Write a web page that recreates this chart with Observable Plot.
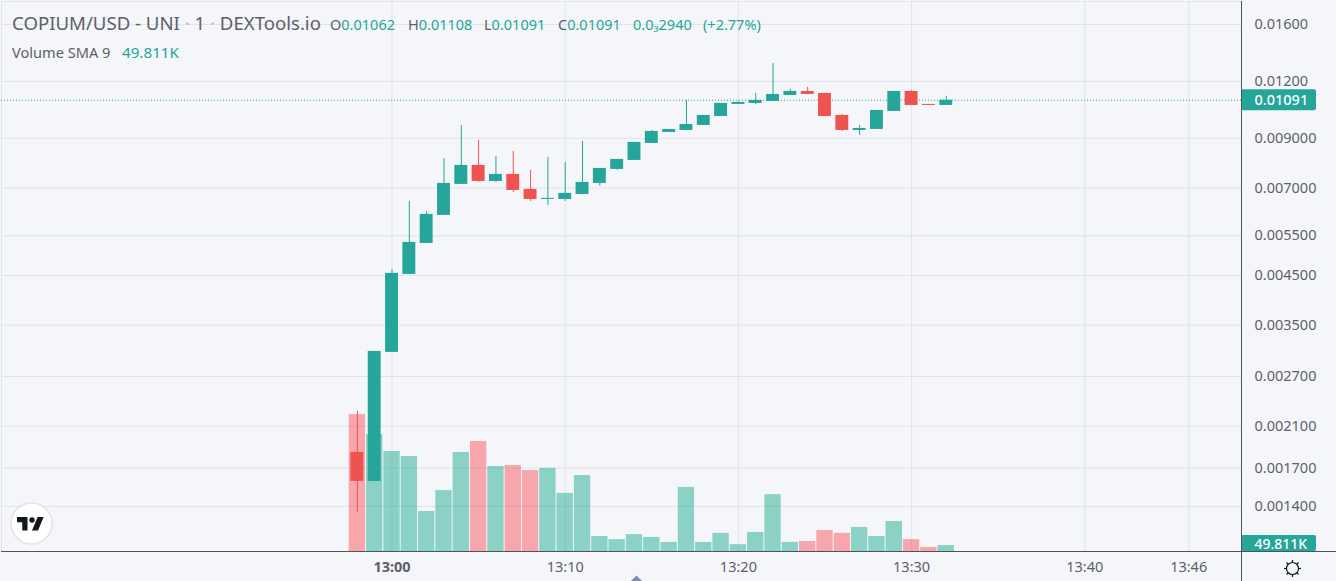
<!DOCTYPE html>
<html><head><meta charset="utf-8">
<script src="https://cdn.jsdelivr.net/npm/d3@7"></script>
<script src="https://cdn.jsdelivr.net/npm/@observablehq/plot@0.6"></script>
<style>
html,body{margin:0;padding:0;background:#f4f6f9;overflow:hidden}
#wrap{position:relative;width:1336px;height:581px;font-family:"Noto Sans",sans-serif;color:#5d606b}
#wrap svg{display:block}
.lg{position:absolute;white-space:nowrap;line-height:1}
.g{color:#26a69a}
</style></head><body>
<div id="wrap"></div>
<script>
// Candle data (minutes relative to 13:00)
const minutes = [-2,-1,0,1,2,3,4,5,6,7,8,9,10,11,12,13,14,15,16,17,18,19,20,21,22,23,24,25,26,27,28,29,30,31,32];
const opens  = [.001840,.001589,.003050,.004524,.005291,.006095,.007129,.007847,.007237,.007498,.006951,.006608,.006608,.006777,.007165,.007690,.008048,.008769,.009271,.009365,.009604,.010051,.010680,.010734,.010843,.011177,.011405,.011290,.010102,.009365,.009412,.010309,.011405,.010680,.010626];
const highs  = [.002264,.003065,.004640,.006542,.006219,.008129,.009604,.008903,.008212,.008422,.007651,.008171,.007967,.008858,.007729,.008088,.008814,.009365,.009412,.010898,.010102,.010734,.010843,.011290,.013138,.011521,.011638,.011290,.010153,.009604,.010361,.011405,.011463,.010680,.011121];
const lows   = [.001359,.001589,.003050,.004524,.005291,.006095,.007129,.007201,.007201,.006846,.006542,.006411,.006542,.006777,.007057,.007651,.008048,.008769,.009271,.009365,.009604,.010051,.010680,.010680,.010843,.011177,.011233,.010051,.009318,.009131,.009412,.010309,.010626,.010626,.010626];
const closes = [.001589,.003065,.004547,.005318,.006126,.007165,.007847,.007237,.007498,.006915,.006608,.006642,.006812,.007201,.007729,.008088,.008814,.009318,.009412,.009653,.010102,.010734,.010788,.010898,.011233,.011405,.011233,.010051,.009365,.009460,.010361,.011405,.010626,.010626,.010910];
const volumes = [438,374,320,304,128,195,317,352,272,275,259,266,186,243,48,38,54,45,29,205,29,58,22,61,182,29,32,67,58,77,48,96,38,13,19];
const priceTicks = [.016,.012,.009,.007,.0055,.0045,.0035,.0027,.0021,.0017,.0014];
const timeTicks = [10,20,30,40,46];
const lastPrice = 0.01091;
const smaLabel = "49.811K";

const GREEN="#26a69a", RED="#ef5350", VGREEN="#22ab94", VRED="#fa5560", GRID="#e0e3eb", AXIS="#50535e", BG="#f4f6f9", TXT="#5d606b";
const font='"Noto Sans",sans-serif';
const yMin=.001115, yMax=.01797, xMin=-22.55, xMax=49.05, xEnd=56.0;
const pxPerLn=550/Math.log(yMax/yMin), pxPerMin=1240/(xMax-xMin);
const shift=(p,px)=>p*Math.exp(px/pxPerLn);          // px upward on the log axis
const volTop=v=>shift(yMin,v/3.2);                   // volume pane: 3.2K per pixel above baseline

const candles=minutes.map((m,i)=>{const up=closes[i]>=opens[i];return {m,o:opens[i],h:highs[i],l:lows[i],c:closes[i],v:volumes[i],col:up?GREEN:RED,vcol:up?VGREEN:VRED}});
const lab=m=>"13:"+String(m).padStart(2,"0");

const chart=Plot.plot({
  width:1336,height:581,marginLeft:1,marginRight:95,marginTop:1,marginBottom:30,
  style:{background:"transparent",fontFamily:font,overflow:"visible"},
  x:{type:"linear",domain:[xMin,xMax]},
  y:{type:"log",domain:[yMin,yMax]},
  marks:[
    Plot.gridY(priceTicks,{stroke:GRID,strokeOpacity:1,strokeWidth:1}),
    Plot.gridX([0,...timeTicks],{stroke:GRID,strokeOpacity:1,strokeWidth:1}),
    Plot.ruleX([xMin],{stroke:GRID}),
    Plot.ruleY([yMax],{stroke:GRID}),
    // volume
    Plot.rect(candles,{x1:d=>d.m-.5,x2:d=>d.m+.5,y1:yMin,y2:d=>volTop(d.v),fill:"vcol",fillOpacity:.5,insetLeft:.5,insetRight:.5}),
    // last price line
    Plot.ruleY([lastPrice],{stroke:GREEN,strokeWidth:1,strokeDasharray:"1 2"}),
    // candles
    Plot.ruleX(candles,{x:"m",y1:"l",y2:"h",stroke:"col",strokeWidth:1}),
    Plot.rect(candles,{x1:d=>d.m-.5,x2:d=>d.m+.5,y1:"o",y2:"c",fill:"col",insetLeft:2.2,insetRight:2.2}),
    // axis tags
    Plot.rect([1],{x1:xMax,x2:xMax+75/pxPerMin,y1:shift(lastPrice,-10.5),y2:shift(lastPrice,10.5),fill:GREEN,rx:2}),
    Plot.rect([1],{x1:xMax,x2:xMax+75/pxPerMin,y1:yMin,y2:shift(yMin,16),fill:GREEN,rx:2}),
    Plot.rect([1],{x1:xMin,x2:xEnd,y1:shift(yMin,-30),y2:yMin,fill:BG}),
    Plot.ruleY([yMin],{x1:xMin,x2:xEnd,stroke:AXIS}),
    Plot.ruleX([xMax],{y1:shift(yMin,-30),y2:yMax,stroke:AXIS}),
    Plot.axisY(priceTicks,{anchor:"right",tickSize:0,tickPadding:13,tickFormat:d=>d.toPrecision(4),label:null,fill:TXT,fontSize:14.5}),
    Plot.text([lastPrice],{x:xMax,y:lastPrice,dx:13,text:d=>d.toFixed(5),textAnchor:"start",fill:"#fff",fontSize:14.5,fontWeight:500}),
    Plot.text([smaLabel],{x:xMax,y:shift(yMin,6.5),dx:13,text:d=>d,textAnchor:"start",fill:"#fff",fontSize:14,fontWeight:500}),
    Plot.axisX(timeTicks,{tickSize:0,tickPadding:10,tickFormat:lab,label:null,fill:TXT,fontSize:14.5}),
    Plot.axisX([0],{tickSize:0,tickPadding:10,tickFormat:lab,label:null,fill:TXT,fontSize:14.5,fontWeight:700}),
    // logo badge
    Plot.dot([1],{x:(31-1)/pxPerMin+xMin,y:shift(yMin,28),r:20.5,fill:"#fff",stroke:GRID,strokeWidth:1.5})
  ]
});
const wrap=document.getElementById("wrap");
wrap.appendChild(chart);

function addDiv(html,x,y,size,extra=""){
  const d=document.createElement("div");d.className="lg";
  d.style.cssText=`left:${x}px;top:${y}px;font-size:${size}px;${extra}`;
  d.innerHTML=html;wrap.appendChild(d);return d;
}
addDiv('COPIUM/USD - UNI <span style="color:#b8bcc6">·</span> 1 <span style="color:#b8bcc6">·</span> DEXTools.io',12,14,18.6);
[["O","0.01062",330],["H","0.01108",408],["L","0.01091",484],["C","0.01091",558]].forEach(([k,v,x])=>addDiv(`${k}<span class="g">${v}</span>`,x,17,14.5));
addDiv('0.0₃2940',633,17,14.5,"color:#26a69a");
addDiv('(+2.77%)',703,17,14.5,"color:#26a69a");
addDiv('Volume SMA 9',12,45,14.6);
addDiv(smaLabel,122,45,15.2,"color:#26a69a");

// Logo, settings icon and the small scroll chevron
const ov=document.createElement("div");
ov.innerHTML=`<svg style="position:absolute;left:0;top:0" width="1336" height="581" fill="none">
<g transform="translate(17,517) scale(.75)" fill="#131722"><path d="M14 18H7V7H0V0h14v18zM28 18h-8l7.5-18h8L28 18z"/><circle cx="20" cy="4" r="3.6"/></g>
<g transform="translate(1292.5,568.5)" stroke="#131722" stroke-width="1.2"><circle r="6"/>
${d3.range(8).map(i=>{const a=i*Math.PI/4;return `<line x1="${6*Math.cos(a)}" y1="${6*Math.sin(a)}" x2="${8.5*Math.cos(a)}" y2="${8.5*Math.sin(a)}"/>`}).join("")}</g>
<path d="M631 581l5.5-5.5 5.5 5.5z" fill="#7f8aa8"/></svg>`;
wrap.appendChild(ov);
</script>
</body></html>
